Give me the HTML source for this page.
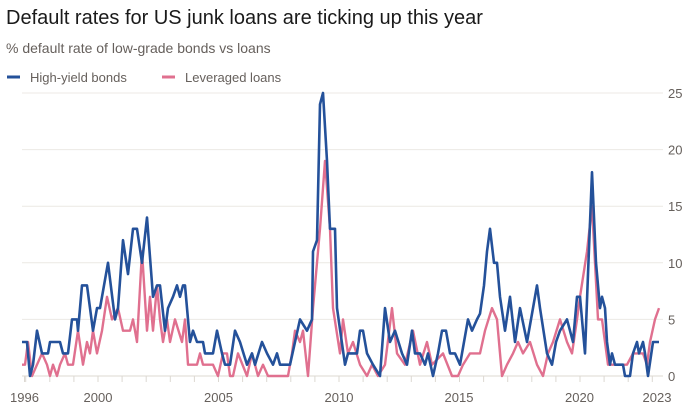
<!DOCTYPE html>
<html><head><meta charset="utf-8"><style>
html,body{margin:0;padding:0;background:#fff;width:700px;height:420px;overflow:hidden;font-family:"Liberation Sans",sans-serif}
</style></head><body>
<svg id="s" width="700" height="420" xmlns="http://www.w3.org/2000/svg" font-family="Liberation Sans, sans-serif">
<text x="6" y="24" font-size="20" fill="#1a1a1a">Default rates for US junk loans are ticking up this year</text>
<text x="6" y="53" font-size="14" fill="#66605c">% default rate of low-grade bonds vs loans</text>
<line x1="7" y1="77" x2="20" y2="77" stroke="#24519a" stroke-width="3"/>
<text x="30" y="82" font-size="13" fill="#66605c">High-yield bonds</text>
<line x1="162" y1="77" x2="175" y2="77" stroke="#e0708f" stroke-width="3"/>
<text x="185" y="82" font-size="13" fill="#66605c">Leveraged loans</text>
<g id="g"></g>
</svg>
<script>
var g=document.getElementById('g'),ns='http://www.w3.org/2000/svg';
function el(t,a,txt){var e=document.createElementNS(ns,t);for(var k in a)e.setAttribute(k,a[k]);if(txt)e.textContent=txt;g.appendChild(e);return e;}
function Y(v){return 376-11.32*v;}
for(var v=0;v<=25;v+=5){el('line',{x1:22,x2:663,y1:Y(v),y2:Y(v),stroke:v?'#ece9e4':'#dcd8d2','stroke-width':1});
el('text',{x:668,y:Y(v)+5,'font-size':13,fill:'#66605c'},''+v);}
for(var yr=1997;yr<=2023;yr++){var x=98+24.1*(yr-2000);el('line',{x1:x,x2:x,y1:376,y2:382,stroke:'#dcd8d2'});}
el('line',{x1:24.5,x2:24.5,y1:376,y2:382,stroke:'#dcd8d2'});
[['1996',24.5],['2000',98],['2005',218.5],['2010',339],['2015',459],['2020',579.5],['2023',657]].forEach(function(a){el('text',{x:a[1],y:402,'font-size':13,fill:'#66605c','text-anchor':'middle'},a[0]);});
var pink=[[22,1],[25,1],[28,3],[32,0],[37,1],[42,2],[47,1],[50,0],[53,1],[57,0],[60,1],[65,2],[68,1],[73,1],[78,4],[83,1],[87,3],[90,2],[93,4],[97,2],[102,4],[107,7],[112,5],[118,6],[123,4],[130,4],[133,5],[137,3],[142,11],[147,4],[150,7],[153,4],[157,8],[160,5],[163,3],[167,5],[170,3],[175,5],[182,3],[185,5],[188,1],[197,1],[200,2],[203,1],[213,1],[218,0],[223,2],[227,2],[230,0],[233,0],[238,2],[247,0],[252,2],[258,0],[263,1],[268,0],[288,0],[292,2],[295,4],[300,3],[303,4],[308,0],[313,6],[320,13],[325,19],[330,13],[333,6],[340,2],[343,5],[348,2],[353,3],[360,1],[367,0],[372,1],[378,0],[385,1],[392,6],[397,2],[405,1],[413,4],[420,1],[427,3],[432,1],[443,2],[452,0],[458,0],[463,1],[470,2],[480,2],[485,4],[492,6],[497,5],[502,0],[507,1],[513,2],[518,3],[523,2],[530,3],[537,1],[543,0],[548,2],[553,3],[560,5],[567,3],[572,2],[577,5],[580,7],[587,11],[592,15],[598,5],[602,5],[608,1],[627,1],[633,2],[643,2],[647,1],[650,3],[655,5],[659,6]];
var blue=[[22,3],[27,3],[30,0],[33,1],[37,4],[42,2],[48,2],[50,3],[60,3],[63,2],[68,2],[72,5],[77,5],[78,4],[82,8],[87,8],[93,4],[97,6],[100,6],[108,10],[115,5],[118,6],[123,12],[128,9],[133,13],[137,13],[142,10],[147,14],[153,7],[157,8],[160,8],[165,4],[168,6],[173,7],[177,8],[180,7],[183,8],[185,8],[190,3],[193,4],[197,3],[203,3],[205,2],[213,2],[217,4],[222,2],[225,1],[230,1],[235,4],[240,3],[247,1],[252,2],[255,1],[262,3],[267,2],[273,1],[277,2],[280,1],[290,1],[295,3],[300,5],[307,4],[312,5],[313,11],[317,12],[320,24],[323,25],[327,19],[330,13],[335,13],[337,6],[345,1],[348,2],[357,2],[360,4],[363,4],[367,2],[373,1],[380,0],[385,6],[390,3],[395,4],[402,2],[407,1],[412,4],[415,2],[420,2],[425,1],[428,2],[433,0],[438,2],[442,4],[446,4],[450,2],[455,2],[460,1],[464,3],[468,5],[472,4],[477,5],[480,5.5],[484,8],[487,11],[490,13],[494,10],[497,10],[500,7],[505,4],[510,7],[515,3],[520,6],[527,3],[533,6],[537,8],[540,6],[547,2],[552,1],[556,3],[560,4],[567,5],[570,4],[573,3],[577,7],[580,7],[585,2],[588,9],[592,18],[596,10],[600,6],[602,7],[605,6],[607,3],[610,1],[612,2],[615,1],[623,1],[625,0],[630,0],[633,2],[637,3],[639,2],[643,3],[645,2],[648,0],[653,3],[659,3]];
function path(d){return d.map(function(p,i){return (i?'L':'M')+p[0]+' '+Y(p[1]).toFixed(1);}).join(' ');}
el('path',{d:path(pink),fill:'none',stroke:'#e0708f','stroke-width':2.4,'stroke-linejoin':'round'});
el('path',{d:path(blue),fill:'none',stroke:'#24519a','stroke-width':2.6,'stroke-linejoin':'round'});
</script>
</body></html>
